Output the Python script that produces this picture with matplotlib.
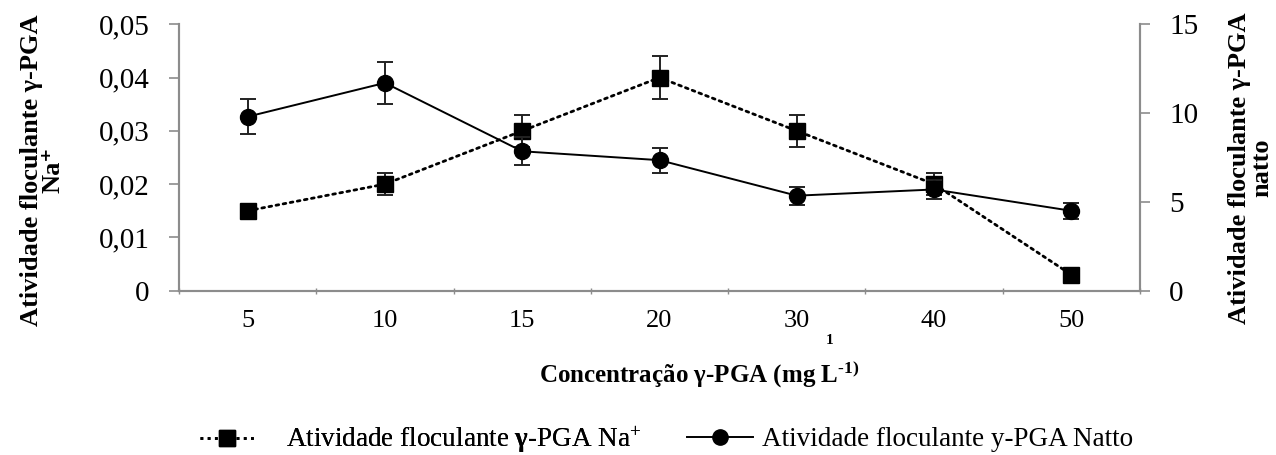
import matplotlib
matplotlib.use("Agg")
import matplotlib.pyplot as plt
from matplotlib.lines import Line2D
import numpy as np

plt.rcParams['font.family'] = ['Liberation Serif', 'DejaVu Serif']
plt.rcParams['mathtext.fontset'] = 'custom'
plt.rcParams['mathtext.rm'] = 'Liberation Serif'
plt.rcParams['mathtext.it'] = 'Liberation Serif:italic'
plt.rcParams['mathtext.bf'] = 'Liberation Serif:bold'

# concentrations (mg/L) shown as evenly spaced categories
concentrations = ['5', '10', '15', '20', '30', '40', '50']

# flocculating activity, gamma-PGA Na+ (left axis)
na_activity = [0.015, 0.020, 0.030, 0.040, 0.030, 0.020, 0.003]
na_error = [0.0, 0.002, 0.003, 0.004, 0.003, 0.002, 0.0]

# flocculating activity, gamma-PGA natto (right axis)
natto_activity = [9.8, 11.7, 7.85, 7.35, 5.35, 5.7, 4.5]
natto_error = [1.0, 1.2, 0.8, 0.7, 0.5, 0.55, 0.45]

GRAY = '#8c8c8c'

fig = plt.figure(figsize=(12.76, 4.55), dpi=100)
ax = fig.add_axes([179 / 1276, 164.3 / 455, 961 / 1276, 266.4 / 455])
ax2 = ax.twinx()

x = np.arange(len(concentrations))

ax.errorbar(x, na_activity, yerr=na_error, color='black', ecolor='#222222',
            linestyle=(0, (1, 1.6)), linewidth=2.0, dash_capstyle='round',
            marker='s', markersize=11, capsize=6, elinewidth=1.4, capthick=1.4,
            zorder=3)
ax2.errorbar(x, natto_activity, yerr=natto_error, color='black', ecolor='#222222',
             linestyle='-', linewidth=1.4, marker='o', markersize=11.5,
             capsize=6, elinewidth=1.4, capthick=1.4, zorder=3)

ax.set_xlim(-0.5, len(concentrations) - 0.5)
ax.set_ylim(0, 0.05)
ax2.set_ylim(0, 15)

ax.set_xticks(x)
ax.set_xticklabels(concentrations)
ax.set_xticks(np.arange(-0.5, len(concentrations)), minor=True)
ax.tick_params(axis='x', which='major', length=0, pad=14, labelsize=19)
ax.tick_params(axis='x', which='minor', length=5, width=1, color=GRAY,
               direction='inout')

ax.set_yticks([0, 0.01, 0.02, 0.03, 0.04, 0.05])
ax.set_yticklabels(['0', '0,01', '0,02', '0,03', '0,04', '0,05'])
ax.tick_params(axis='y', length=7, width=1.2, color=GRAY, pad=14, labelsize=21)
ax2.set_yticks([0, 5, 10, 15])
ax2.tick_params(axis='y', length=7, width=1.2, color=GRAY, pad=14, labelsize=21)

for a in (ax, ax2):
    a.spines['top'].set_visible(False)
    for side in ('left', 'right', 'bottom'):
        a.spines[side].set_color(GRAY)
        a.spines[side].set_linewidth(1.5)

fig.text(42 / 1276, 1 - 170 / 455, 'Atividade floculante γ-PGA\nNa⁺',
         rotation=90, ha='center', va='center', multialignment='center',
         fontsize=19, fontweight='bold', linespacing=0.9)
fig.text(1251 / 1276, 1 - 168 / 455, 'Atividade floculante γ-PGA\nnatto',
         rotation=90, ha='center', va='center', multialignment='center',
         fontsize=19, fontweight='bold', linespacing=0.95)
fig.text(699 / 1276, 1 - 374 / 455, 'Concentração γ-PGA (mg L$^{\\mathbf{‐1)}}$',
         ha='center', va='center', fontsize=18, fontweight='bold')
fig.text(830 / 1276, 1 - 340 / 455, '1', ha='center', va='center',
         fontsize=11, fontweight='bold')

na_handle = Line2D([], [], color='black', linestyle=(0, (1, 1.6)), linewidth=2.0,
                   marker='s', markersize=11)
natto_handle = Line2D([], [], color='black', linestyle='-', linewidth=1.4,
                      marker='o', markersize=11)
leg1 = fig.legend([na_handle], ['Atividade floculante $\\mathbf{γ}$-PGA Na$^{+}$'],
                  loc='center left', bbox_to_anchor=(200 / 1276, 1 - 440 / 455),
                  frameon=False, fontsize=19.5, borderpad=0, borderaxespad=0,
                  handlelength=2.0, handletextpad=1.18)
fig.legend([natto_handle], ['Atividade floculante y-PGA Natto'],
           loc='center left', bbox_to_anchor=(687 / 1276, 1 - 440 / 455),
           frameon=False, fontsize=19.5, borderpad=0, borderaxespad=0,
           handlelength=2.44, handletextpad=0.33)
fig.add_artist(leg1)

fig.savefig('out.png', dpi=100)
